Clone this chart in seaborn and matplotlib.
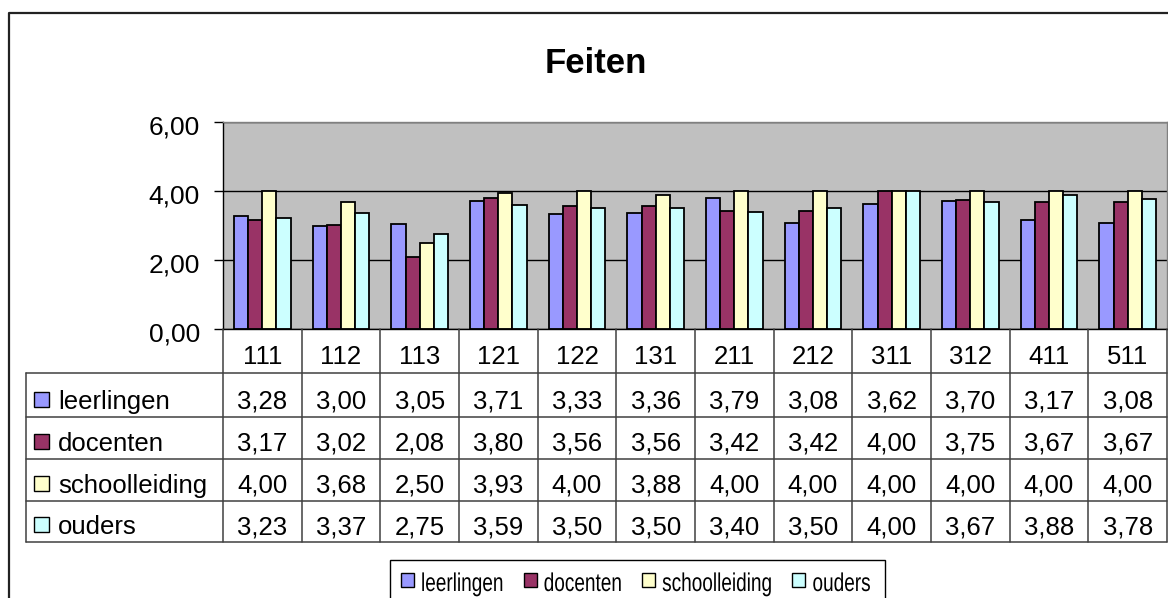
import matplotlib
matplotlib.use("Agg")
import matplotlib.pyplot as plt
import matplotlib.patches as mpatches
import matplotlib.transforms as mtransforms
from matplotlib.patheffects import AbstractPathEffect
import seaborn as sns
import pandas as pd

# data
categories = ["111", "112", "113", "121", "122", "131", "211", "212", "311", "312", "411", "511"]
groups = ["leerlingen", "docenten", "schoolleiding", "ouders"]
leerlingen = [3.28, 3.00, 3.05, 3.71, 3.33, 3.36, 3.79, 3.08, 3.62, 3.70, 3.17, 3.08]
docenten = [3.17, 3.02, 2.08, 3.80, 3.56, 3.56, 3.42, 3.42, 4.00, 3.75, 3.67, 3.67]
schoolleiding = [4.00, 3.68, 2.50, 3.93, 4.00, 3.88, 4.00, 4.00, 4.00, 4.00, 4.00, 4.00]
ouders = [3.23, 3.37, 2.75, 3.59, 3.50, 3.50, 3.40, 3.50, 4.00, 3.67, 3.88, 3.78]
colors = ["#9999FF", "#993366", "#FFFFCC", "#CCFFFF"]
yticks = [0, 2, 4, 6]
ytick_labels = ["0,00", "2,00", "4,00", "6,00"]


class Squeeze(AbstractPathEffect):
    # narrow text horizontally around its anchor (legend text is condensed)
    def __init__(self, sx):
        super().__init__()
        self.sx = sx

    def draw_path(self, renderer, gc, tpath, affine, rgbFace=None):
        m = affine.get_matrix().copy()
        m[0, 0] *= self.sx
        m[0, 1] *= self.sx
        renderer.draw_path(gc, tpath, mtransforms.Affine2D(m), rgbFace)


series = [leerlingen, docenten, schoolleiding, ouders]
rows = []
for g, vals in zip(groups, series):
    for c, v in zip(categories, vals):
        rows.append({"cat": c, "groep": g, "waarde": v})
df = pd.DataFrame(rows)

sns.set_style("white")
plt.rcParams["font.family"] = ["Liberation Sans", "DejaVu Sans"]
plt.rcParams["text.color"] = "black"
plt.rcParams["ytick.color"] = "black"
plt.rcParams["xtick.color"] = "black"
plt.rcParams["axes.labelcolor"] = "black"

W, H = 1168, 598
fig = plt.figure(figsize=(W / 100, H / 100), dpi=100)

# main plot area (pixel box 223..1167 x 122..329)
ax = fig.add_axes([223 / W, 1 - 329 / H, (1167 - 223) / W, (329 - 122) / H])
sns.barplot(data=df, x="cat", y="waarde", hue="groep", order=categories,
            hue_order=groups, palette=dict(zip(groups, colors)),
            width=0.72, gap=0, edgecolor="black", linewidth=1.3,
            saturation=1, ax=ax)
if ax.get_legend() is not None:
    ax.get_legend().remove()

ax.set_facecolor("#C0C0C0")
ax.set_xlim(-0.5, len(categories) - 0.5)
ax.set_ylim(0, 6)
ax.set_yticks(yticks)
ax.set_yticklabels(ytick_labels)
ax.set_xlabel("")
ax.set_ylabel("")
ax.tick_params(axis="x", bottom=False, labelbottom=False)
ax.tick_params(axis="y", left=True, length=6.5, width=1, color="black",
               labelcolor="black", direction="out", pad=10, labelsize=19)
offset = mtransforms.ScaledTranslation(0, -3 / 100, fig.dpi_scale_trans)
for lab in ax.get_yticklabels():
    lab.set_transform(lab.get_transform() + offset)
ax.yaxis.grid(True, color="black", linewidth=1)
ax.set_axisbelow(True)
for side in ["top", "right"]:
    ax.spines[side].set_color("#808080")
for side in ["left", "bottom"]:
    ax.spines[side].set_color("black")
for sp in ax.spines.values():
    sp.set_linewidth(1)

# overlay in pixel coordinates for the data table, legend and chart border
ov = fig.add_axes([0, 0, 1, 1])
ov.set_xlim(0, W)
ov.set_ylim(H, 0)
ov.axis("off")
blend = mtransforms.blended_transform_factory(ax.transData, ov.transData)

ov.plot([9, 9, W], [H, 13, 13], color="#222222", lw=1.6)

line_kw = dict(color="#404040", lw=1.1)
row_lines = [373, 417, 459, 501, 542]
for y in row_lines:
    ov.plot([26, 1167], [y, y], **line_kw)
ov.plot([26, 26], [373, 542], **line_kw)
for i in range(len(categories) + 1):
    ov.plot([i - 0.5, i - 0.5], [329, 542], transform=blend, **line_kw)

txt = 18.5
for i, c in enumerate(categories):
    ov.text(i, 373 - 9.5, c, transform=blend, ha="center", va="baseline", fontsize=txt)

for r, (g, vals, col) in enumerate(zip(groups, series, colors)):
    bottom = row_lines[r + 1]
    ov.add_patch(mpatches.Rectangle((34, bottom - 25), 15, 15, facecolor=col,
                                    edgecolor="black", lw=1))
    ov.text(58, bottom - 8, g, ha="left", va="baseline", fontsize=txt)
    for i, v in enumerate(vals):
        ov.text(i, bottom - 8, f"{v:.2f}".replace(".", ","), transform=blend,
                ha="center", va="baseline", fontsize=txt)

fig.text(596 / W, 1 - 73 / H, "Feiten", ha="center", va="baseline",
         fontsize=25, fontweight="bold")

# bottom legend (frame runs past the lower edge, as in the reference)
ov.add_patch(mpatches.Rectangle((390, 560), 495, 60, facecolor="white",
                                edgecolor="black", lw=1))
renderer = fig.canvas.get_renderer()
squeeze = 0.74
x = 401
for g, col in zip(groups, colors):
    ov.add_patch(mpatches.Rectangle((x, 573), 13, 14, facecolor=col,
                                    edgecolor="black", lw=1))
    t = ov.text(x + 20, 591, g, ha="left", va="baseline", fontsize=txt,
                path_effects=[Squeeze(squeeze)])
    x += 20 + t.get_window_extent(renderer).width * squeeze + 20

fig.savefig("out.png", dpi=100)
